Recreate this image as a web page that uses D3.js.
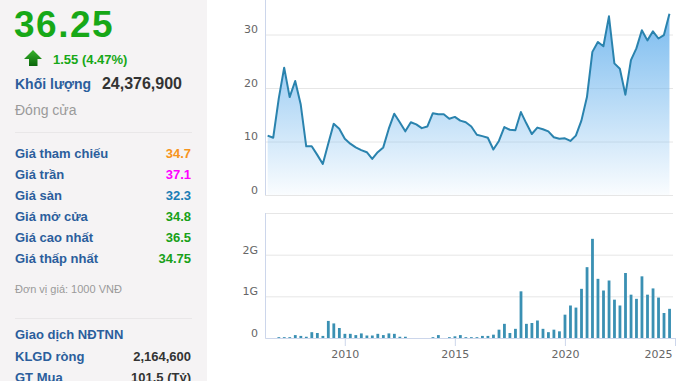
<!DOCTYPE html>
<html>
<head>
<meta charset="utf-8">
<script src="https://cdn.jsdelivr.net/npm/d3@7/dist/d3.min.js"></script>
<style>
	body { margin: 0; background: #fff; }
	svg { display: block; font-family: "Liberation Sans", Arial, sans-serif; }
	.axis text { font-family: "DejaVu Sans", Verdana, sans-serif; font-size: 11px; fill: #666; }
</style>
</head>
<body>
<svg id="chart"></svg>
<script>
// quarterly points (yyyy-mm)
const quarters = [
	'2006-07', '2006-10',
	'2007-01', '2007-04', '2007-07', '2007-10',
	'2008-01', '2008-04', '2008-07', '2008-10',
	'2009-01', '2009-04', '2009-07', '2009-10',
	'2010-01', '2010-04', '2010-07', '2010-10',
	'2011-01', '2011-04', '2011-07', '2011-10',
	'2012-01', '2012-04', '2012-07', '2012-10',
	'2013-01', '2013-04', '2013-07', '2013-10',
	'2014-01', '2014-04', '2014-07', '2014-10',
	'2015-01', '2015-04', '2015-07', '2015-10',
	'2016-01', '2016-04', '2016-07', '2016-10',
	'2017-01', '2017-04', '2017-07', '2017-10',
	'2018-01', '2018-04', '2018-07', '2018-10',
	'2019-01', '2019-04', '2019-07', '2019-10',
	'2020-01', '2020-04', '2020-07', '2020-10',
	'2021-01', '2021-04', '2021-07', '2021-10',
	'2022-01', '2022-04', '2022-07', '2022-10',
	'2023-01', '2023-04', '2023-07', '2023-10',
	'2024-01', '2024-04', '2024-07', '2024-10',
]

// closing price, thousand VND
const closes = [
	11.1, 10.7,
	18.0, 23.8, 18.3, 21.3,
	16.9, 9.1, 9.1, 7.5,
	5.8, 9.6, 13.3, 12.4,
	10.5, 9.6, 8.9, 8.4,
	8.0, 6.75, 8.0, 8.9,
	12.4, 15.2, 13.6, 11.9,
	13.6, 13.2, 12.5, 12.8,
	15.3, 15.1, 15.1, 14.25,
	14.6, 13.9, 13.6, 12.8,
	11.25, 11.0, 10.7, 8.5,
	10.1, 12.7, 12.2, 12.1,
	15.5, 13.4, 11.4, 12.6,
	12.3, 11.9, 10.8, 10.5,
	10.6, 10.1, 11.1, 13.9,
	18.3, 26.75, 28.6, 27.8,
	33.4, 24.6, 23.6, 18.75,
	25.2, 27.4, 30.8, 28.9,
	30.6, 29.25, 29.9, 33.9,
]

// traded volume, billions of shares
const volumes = [
	0, 0,
	0.02, 0.02, 0.02, 0.07,
	0.05, 0.03, 0.14, 0.12,
	0.05, 0.41, 0.35, 0.24,
	0.1, 0.1, 0.07, 0.11,
	0.06, 0.06, 0.1, 0.07,
	0.11, 0.1, 0.03, 0.03,
	0, 0, 0, 0,
	0.02, 0.07, 0, 0.02,
	0.04, 0.07, 0.02, 0.02,
	0.02, 0.05, 0.05, 0.08,
	0.2, 0.34, 0.12, 0.22,
	1.12, 0.34, 0.36, 0.42,
	0.22, 0.14, 0.2, 0.16,
	0.56, 0.78, 0.73, 1.18,
	1.7, 2.38, 1.42, 1.14,
	1.38, 0.92, 0.78, 1.56,
	1.04, 0.94, 1.48, 1.04,
	1.19, 0.97, 0.6, 0.7,
]

const priceTicks = [0, 10, 20, 30]
const volumeTicks = [0, 1, 2, 3]
const volumeTickLabels = ['0', '1G', '2G', '']
const yearTicks = [2010, 2015, 2020, 2025]

// side panel text
const lastPrice = '36.25'
const change = '1.55 (4.47%)'
const volumeLabel = 'Khối lượng'
const volumeValue = '24,376,900'
const closedLabel = 'Đóng cửa'
const priceLabels = ['Giá tham chiếu', 'Giá trần', 'Giá sàn', 'Giá mở cửa', 'Giá cao nhất', 'Giá thấp nhất']
const priceValues = ['34.7', '37.1', '32.3', '34.8', '36.5', '34.75']
const unitNote = 'Đơn vị giá: 1000 VNĐ'
const foreignTitle = 'Giao dịch NĐTNN'
const foreignLabels = ['KLGD ròng', 'GT Mua']
const foreignValues = ['2,164,600', '101.5 (Tỷ)']

const valueColors = ['#f7941d', '#f0f', '#1b7db5', '#18a018', '#18a018', '#18a018']
const blue = '#2b5e9c'

const parse = d3.timeParse('%Y-%m')
const rows = quarters.map((q, i) => ({ date: parse(q), close: closes[i], volume: volumes[i] }))

const setup = () => {

	const outerWidth = 678
	const outerHeight = 381

	const svg = d3.select('#chart')
		.attr('width', outerWidth)
		.attr('height', outerHeight)

	// ---- side panel
	const side = svg.append('g')

	side.append('rect')
		.attr('width', 207)
		.attr('height', outerHeight)
		.attr('fill', '#f5f3f4')

	side.append('text')
		.attr('x', 14)
		.attr('y', 37)
		.attr('font-size', 37)
		.attr('font-weight', 'bold')
		.attr('letter-spacing', 1.5)
		.attr('fill', '#17a817')
		.text(lastPrice)

	const defs = svg.append('defs')
	const arrowGrad = defs.append('linearGradient')
		.attr('id', 'arrow-grad')
		.attr('x1', 0).attr('y1', 0).attr('x2', 0).attr('y2', 1)
	arrowGrad.append('stop').attr('offset', 0).attr('stop-color', '#39b52c')
	arrowGrad.append('stop').attr('offset', 1).attr('stop-color', '#0b660b')

	side.append('path')
		.attr('d', 'M33,50 L42,59 L37.5,59 L37.5,66 L29,66 L29,59 L24,59 Z')
		.attr('fill', 'url(#arrow-grad)')

	side.append('text')
		.attr('x', 53)
		.attr('y', 64)
		.attr('font-size', 13)
		.attr('font-weight', 'bold')
		.attr('fill', '#17a817')
		.text(change)

	side.append('text')
		.attr('x', 15)
		.attr('y', 89)
		.attr('font-size', 14)
		.attr('font-weight', 'bold')
		.attr('fill', blue)
		.text(volumeLabel)

	side.append('text')
		.attr('x', 182)
		.attr('y', 89)
		.attr('text-anchor', 'end')
		.attr('font-size', 16)
		.attr('font-weight', 'bold')
		.attr('fill', '#333')
		.text(volumeValue)

	side.append('text')
		.attr('x', 15)
		.attr('y', 115)
		.attr('font-size', 14)
		.attr('fill', '#9a9a9a')
		.text(closedLabel)

	side.append('line')
		.attr('x1', 15).attr('x2', 192)
		.attr('y1', 132.5).attr('y2', 132.5)
		.attr('stroke', '#e9e7e8')

	priceLabels.forEach((label, i) => {
		const y = 157.5 + i * 21
		side.append('text')
			.attr('x', 15)
			.attr('y', y)
			.attr('font-size', 13)
			.attr('font-weight', 'bold')
			.attr('fill', blue)
			.text(label)
		side.append('text')
			.attr('x', 191)
			.attr('y', y)
			.attr('text-anchor', 'end')
			.attr('font-size', 13)
			.attr('font-weight', 'bold')
			.attr('fill', valueColors[i])
			.text(priceValues[i])
	})

	side.append('text')
		.attr('x', 15)
		.attr('y', 292.5)
		.attr('font-size', 11)
		.attr('fill', '#9a9a9a')
		.text(unitNote)

	side.append('line')
		.attr('x1', 15).attr('x2', 192)
		.attr('y1', 318.5).attr('y2', 318.5)
		.attr('stroke', '#e9e7e8')

	side.append('text')
		.attr('x', 15)
		.attr('y', 339)
		.attr('font-size', 13)
		.attr('font-weight', 'bold')
		.attr('fill', blue)
		.text(foreignTitle)

	foreignLabels.forEach((label, i) => {
		const y = 361 + i * 20.5
		side.append('text')
			.attr('x', 15)
			.attr('y', y)
			.attr('font-size', 13)
			.attr('font-weight', 'bold')
			.attr('fill', blue)
			.text(label)
		side.append('text')
			.attr('x', 191)
			.attr('y', y)
			.attr('text-anchor', 'end')
			.attr('font-size', 13)
			.attr('font-weight', 'bold')
			.attr('fill', '#333')
			.text(foreignValues[i])
	})

	// ---- scales
	const left = 265
	const right = 675
	const gridWidth = 408

	const x = d3.scaleTime()
		.domain([new Date(2006, 4, 18), new Date(2025, 0, 1)])
		.range([left, right])

	const y = d3.scaleLinear()
		.domain([0, 30])
		.range([195, 34.5])

	const yv = d3.scaleLinear()
		.domain([0, 3])
		.range([338, 213])

	// ---- price panel
	svg.append('g')
		.attr('class', 'axis axis--y')
		.attr('transform', `translate(${left}, 0)`)
		.call(d3.axisLeft(y)
			.tickValues(priceTicks)
			.tickSize(-gridWidth)
			.tickPadding(7)
		)
		.call(g => g.select('.domain').remove())
		.call(g => g.selectAll('.tick line').attr('stroke', '#e6e6e6'))
		.call(g => g.selectAll('.tick text').attr('dy', '-0.15em'))

	const grad = defs.append('linearGradient')
		.attr('id', 'area-grad')
		.attr('x1', 0).attr('y1', 0).attr('x2', 0).attr('y2', 1)
	grad.append('stop').attr('offset', 0).attr('stop-color', '#7abbef').attr('stop-opacity', 1)
	grad.append('stop').attr('offset', 1).attr('stop-color', '#7abbef').attr('stop-opacity', 0.04)

	const area = d3.area()
		.x(d => x(d.date))
		.y0(y(0))
		.y1(d => y(d.close))

	const line = d3.line()
		.x(d => x(d.date))
		.y(d => y(d.close))

	svg.append('path')
		.datum(rows)
		.attr('d', area)
		.attr('fill', 'url(#area-grad)')

	svg.append('path')
		.datum(rows)
		.attr('d', line)
		.attr('fill', 'none')
		.attr('stroke', '#2a83ae')
		.attr('stroke-width', 2)
		.attr('stroke-linejoin', 'round')

	svg.append('line')
		.attr('x1', left + 0.5).attr('x2', left + 0.5)
		.attr('y1', 0).attr('y2', y(0))
		.attr('stroke', '#ccd6eb')

	// ---- volume panel
	svg.append('g')
		.attr('class', 'axis axis--v')
		.attr('transform', `translate(${left}, 0)`)
		.call(d3.axisLeft(yv)
			.tickValues(volumeTicks)
			.tickFormat((d, i) => volumeTickLabels[i])
			.tickSize(-gridWidth)
			.tickPadding(7)
		)
		.call(g => g.select('.domain').remove())
		.call(g => g.selectAll('.tick line').attr('stroke', '#e6e6e6'))
		.call(g => g.selectAll('.tick text').attr('dy', '-0.15em'))

	svg.append('g')
		.selectAll('rect')
		.data(rows.filter(d => d.volume > 0))
		.join('rect')
			.attr('x', d => x(d.date) - 1.3)
			.attr('width', 2.8)
			.attr('y', d => yv(d.volume))
			.attr('height', d => yv(0) - yv(d.volume))
			.attr('fill', '#3a90b3')

	svg.append('line')
		.attr('x1', left + 0.5).attr('x2', left + 0.5)
		.attr('y1', yv(3)).attr('y2', yv(0))
		.attr('stroke', '#ccd6eb')

	svg.append('g')
		.attr('class', 'axis axis--x')
		.attr('transform', `translate(0, ${yv(0)})`)
		.call(d3.axisBottom(x)
			.tickValues(yearTicks.map(yr => new Date(yr, 0, 1)))
			.tickFormat(d3.timeFormat('%Y'))
			.tickSize(8)
			.tickSizeOuter(0)
			.tickPadding(4)
		)
		.call(g => g.select('.domain').attr('stroke', '#ccd6eb'))
		.call(g => g.selectAll('.tick line').attr('stroke', '#ccd6eb'))
		.call(g => g.selectAll('.tick:last-of-type text')
			.attr('text-anchor', 'end')
			.attr('x', -3))

}

setup()
</script>
</body>
</html>
